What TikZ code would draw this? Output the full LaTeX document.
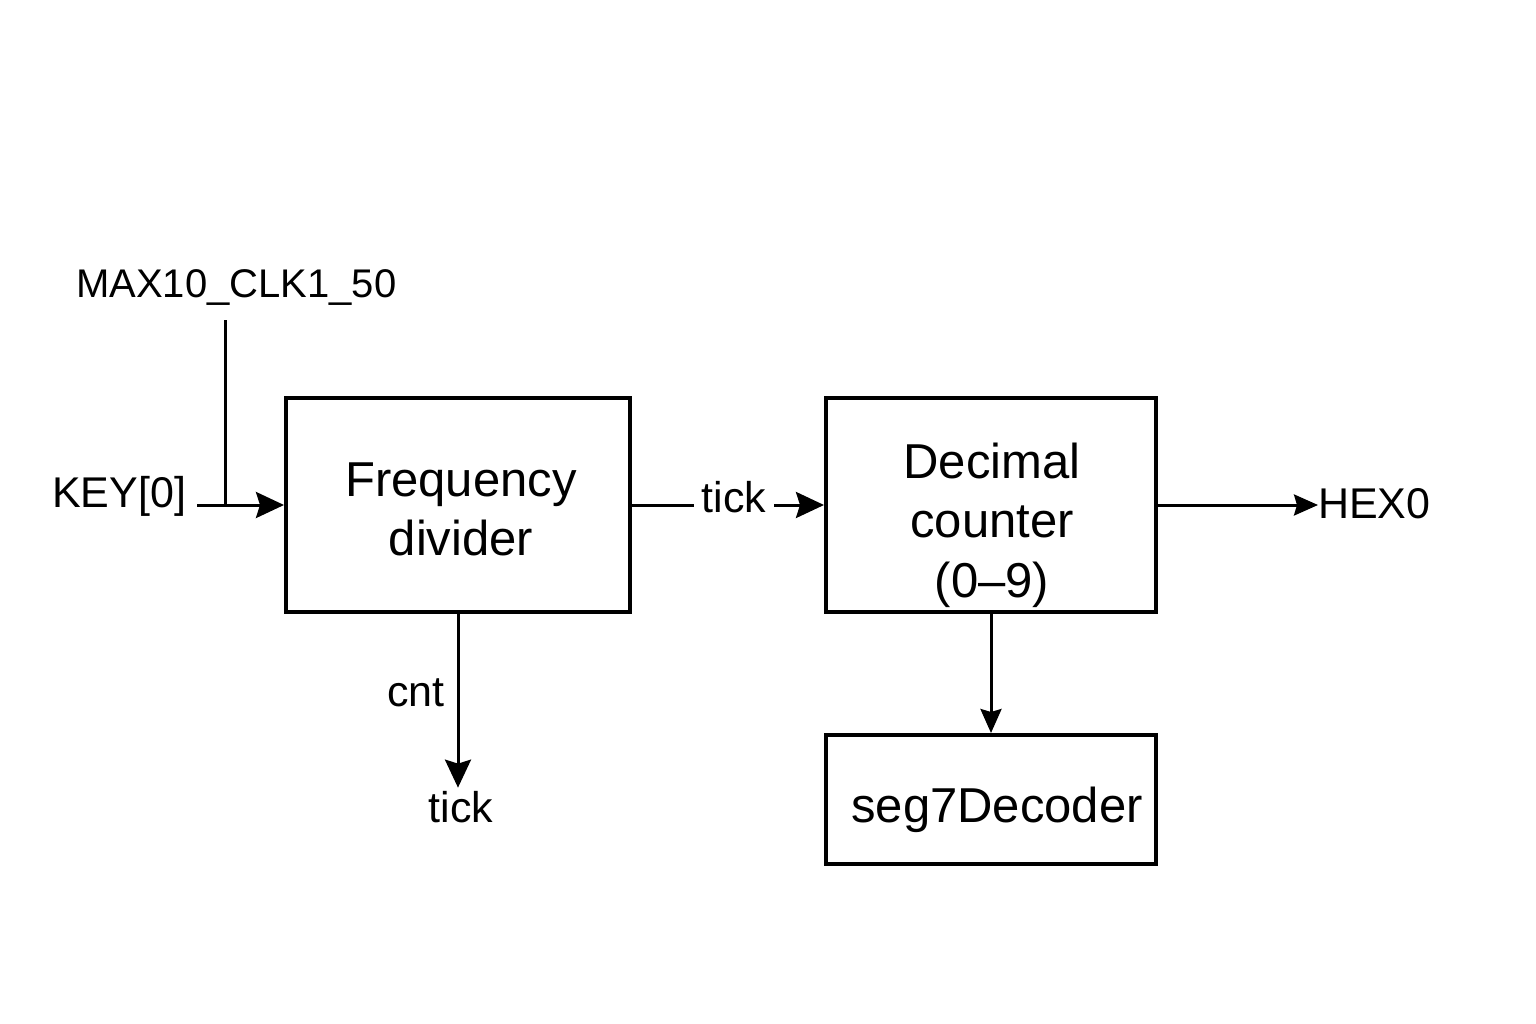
\documentclass[tikz,border=0pt]{standalone}
\usepackage{fontspec}
\setmainfont{Liberation Sans}
\usetikzlibrary{arrows.meta}
\begin{document}
\begin{tikzpicture}[x=1pt,y=-1pt,
  blk/.style={draw,line width=4pt,inner sep=0pt},
  wire/.style={line width=3pt},
  arr/.style={wire,-{Stealth[length=28pt,width=26pt,inset=4pt]}},
  arrs/.style={wire,-{Stealth[length=24pt,width=21pt,inset=3pt]}},
  big/.style={font=\fontsize{49}{58}\selectfont,inner sep=0pt,anchor=base},
  lbl/.style={font=\fontsize{43}{50}\selectfont,inner sep=0pt},
  sml/.style={font=\fontsize{40}{48}\selectfont,inner sep=0pt},
]
\useasboundingbox (0,0) rectangle (1536,1024);
% blocks
\node[blk,minimum width=344pt,minimum height=214pt] (fd) at (458,505) {};
\node[blk,minimum width=330pt,minimum height=214pt] (dc) at (991,505) {};
\node[blk,minimum width=330pt,minimum height=129pt] (sd) at (991,799.5) {};
% block texts
\node[big] (fd1) at (461,496) {Frequency};
\node[big] (fd2) at (461,555) {divider};
\node[big] (dc1) at (992,478) {Decimal};
\node[big] (dc2) at (992,537) {counter};
\node[big] (dc3) at (992,597) {(0–9)};
\node[big] (sd1) at (997,822) {seg7Decoder};
% labels
\node[sml,anchor=base west] (clk) at (76,298) {MAX10\_CLK1\_50};
\node[lbl,anchor=base west] (key) at (52,507) {KEY[0]};
\node[lbl,anchor=base,inner xsep=8pt] (tk1) at (734,512) {tick};
\node[lbl,anchor=base west] (hex) at (1318,518) {HEX0};
\node[lbl,anchor=base east] (cnt) at (445,706) {cnt};
\node[lbl,anchor=base,inner ysep=3pt] (tk2) at (461,822) {tick};
% connectors
\coordinate (clktop) at (225,320);
\coordinate (keyend) at (197,505);
\draw[wire] (clktop) -- (clktop |- fd.west);
\draw[arr] (keyend) -- (fd.west);
\draw[wire] (fd.east) -- (fd.east -| tk1.west);
\draw[arr] (dc.west -| tk1.east) -- (dc.west);
\draw[arrs] (dc.east) -- (dc.east -| hex.west);
\draw[arr] (fd.south) -- (fd.south |- tk2.north);
\draw[arrs] (dc.south) -- (sd.north);
\end{tikzpicture}
\end{document}
